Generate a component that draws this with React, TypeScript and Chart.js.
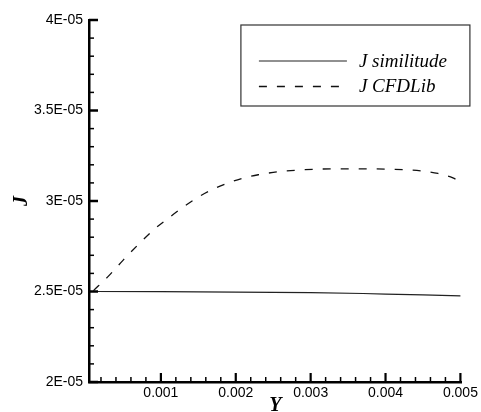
import React, { useEffect, useRef } from 'react';
import { Chart, registerables } from 'chart.js';
Chart.register(...registerables);

// ---- data ----
const seriesNames = ['J similitude', 'J CFDLib'];

const simX = [0.0001, 0.001, 0.002, 0.003, 0.0037, 0.004, 0.0045, 0.005];
const simY = [2.5e-5, 2.499e-5, 2.497e-5, 2.494e-5, 2.489e-5, 2.486e-5, 2.481e-5, 2.476e-5];

const cfdX = [
  0.0001, 0.0003, 0.0005, 0.0007, 0.0009, 0.0011, 0.0013, 0.0015, 0.0017,
  0.0019, 0.0021, 0.0023, 0.0025, 0.0028, 0.0031, 0.0034, 0.0037, 0.004,
  0.0043, 0.0045, 0.0047, 0.0049, 0.005,
];
const cfdY = [
  2.505e-5, 2.585e-5, 2.675e-5, 2.76e-5, 2.84e-5, 2.905e-5, 2.967e-5, 3.022e-5, 3.066e-5,
  3.1e-5, 3.126e-5, 3.145e-5, 3.158e-5, 3.17e-5, 3.176e-5, 3.178e-5, 3.178e-5, 3.176e-5,
  3.172e-5, 3.165e-5, 3.152e-5, 3.128e-5, 3.106e-5,
];

const xTickValues = [0.001, 0.002, 0.003, 0.004, 0.005];
const xTickLabels = ['0.001', '0.002', '0.003', '0.004', '0.005'];
const yTickValues = [2e-5, 2.5e-5, 3e-5, 3.5e-5, 4e-5];
const yTickLabels = ['2E-05', '2.5E-05', '3E-05', '3.5E-05', '4E-05'];

const X_MIN = 0.00004;
const X_MAX = 0.00502;
const Y_MIN = 2e-5;
const Y_MAX = 4e-5;

const innerTicks = {
  id: 'innerTicks',
  afterDatasetsDraw(chart: any) {
    const { ctx, chartArea, scales } = chart;
    const x = scales.x;
    const y = scales.y;
    ctx.save();
    ctx.strokeStyle = '#000';
    const yStep = (yTickValues[1] - yTickValues[0]) / 5;
    for (let i = 0; i <= 20; i++) {
      const v = Y_MIN + i * yStep;
      const py = y.getPixelForValue(v);
      const major = i % 5 === 0;
      ctx.lineWidth = major ? 2.5 : 1.5;
      ctx.beginPath();
      ctx.moveTo(chartArea.left, py);
      ctx.lineTo(chartArea.left + (major ? 9 : 5), py);
      ctx.stroke();
    }
    const xStep = (xTickValues[1] - xTickValues[0]) / 5;
    for (let i = 1; i <= 25; i++) {
      const v = i * xStep;
      const px = x.getPixelForValue(v);
      const major = i % 5 === 0;
      ctx.lineWidth = major ? 2.2 : 1.5;
      ctx.beginPath();
      ctx.moveTo(px, chartArea.bottom);
      ctx.lineTo(px, chartArea.bottom - (major ? 9 : 5));
      ctx.stroke();
    }
    ctx.restore();
  },
};

const boxLegend = {
  id: 'boxLegend',
  afterDraw(chart: any) {
    const { ctx, chartArea } = chart;
    const left = chartArea.right - 221;
    const top = chartArea.top + 5;
    const w = 229;
    const h = 81;
    ctx.save();
    ctx.fillStyle = '#fff';
    ctx.fillRect(left, top, w, h);
    ctx.strokeStyle = '#333';
    ctx.lineWidth = 1.2;
    ctx.strokeRect(left, top, w, h);
    const rows = [
      { y: top + 36, ty: top + 42 },
      { y: top + 61.5, ty: top + 67 },
    ];
    chart.data.datasets.forEach((ds: any, i: number) => {
      const r = rows[i];
      ctx.strokeStyle = ds.borderColor;
      ctx.lineWidth = ds.borderWidth;
      ctx.setLineDash(ds.borderDash || []);
      ctx.beginPath();
      ctx.moveTo(left + 18, r.y);
      ctx.lineTo(left + 106, r.y);
      ctx.stroke();
      ctx.setLineDash([]);
      ctx.fillStyle = '#000';
      ctx.font = 'italic 19px "Liberation Serif"';
      ctx.textBaseline = 'alphabetic';
      ctx.textAlign = 'left';
      ctx.fillText(ds.label, left + 118, r.ty);
    });
    ctx.restore();
  },
};

export default function App() {
  const ref = useRef<HTMLCanvasElement | null>(null);
  useEffect(() => {
    document.body.style.margin = '0';
    const canvas = ref.current;
    if (!canvas) return;
    const chart = new Chart(canvas, {
      type: 'scatter',
      data: {
        datasets: [
          {
            label: seriesNames[0],
            data: simX.map((v, i) => ({ x: v, y: simY[i] })),
            showLine: true,
            borderColor: '#222',
            borderWidth: 1.2,
            pointRadius: 0,
            tension: 0,
          },
          {
            label: seriesNames[1],
            data: cfdX.map((v, i) => ({ x: v, y: cfdY[i] })),
            showLine: true,
            borderColor: '#111',
            borderWidth: 1.3,
            borderDash: [8, 10],
            pointRadius: 0,
            cubicInterpolationMode: 'monotone',
          },
        ],
      },
      options: {
        responsive: false,
        animation: false,
        devicePixelRatio: 1,
        layout: { padding: { left: 0, top: 20, right: 18, bottom: 0 } },
        plugins: { legend: { display: false }, tooltip: { enabled: false } },
        scales: {
          x: {
            type: 'linear',
            min: X_MIN,
            max: X_MAX,
            afterBuildTicks: (s: any) => {
              s.ticks = xTickValues.map((v) => ({ value: v }));
            },
            afterFit: (s: any) => {
              s.height = 38;
            },
            grid: { drawOnChartArea: false, drawTicks: false },
            border: { display: true, color: '#000', width: 2.5 },
            ticks: {
              padding: 3,
              color: '#000',
              font: { family: '"Liberation Sans"', size: 14 },
              maxRotation: 0,
              callback: (_v: any, i: number) => xTickLabels[i],
            },
            title: {
              display: true,
              text: 'Y',
              color: '#000',
              font: { family: '"Liberation Serif"', size: 20, style: 'italic', weight: 'bold' },
              padding: { top: 0, bottom: 2 },
            },
          },
          y: {
            type: 'linear',
            min: Y_MIN,
            max: Y_MAX,
            afterBuildTicks: (s: any) => {
              s.ticks = yTickValues.map((v) => ({ value: v }));
            },
            afterFit: (s: any) => {
              s.width = 89;
            },
            grid: { drawOnChartArea: false, drawTicks: false },
            border: { display: true, color: '#000', width: 2.5 },
            ticks: {
              padding: 6,
              color: '#000',
              font: { family: '"Liberation Sans"', size: 14 },
              callback: (_v: any, i: number) => yTickLabels[i],
            },
            title: {
              display: true,
              text: 'J',
              color: '#000',
              font: { family: '"Liberation Serif"', size: 20, style: 'italic', weight: 'bold' },
              padding: { top: 10, bottom: 0 },
            },
          },
        },
      },
      plugins: [innerTicks, boxLegend],
    } as any);
    return () => chart.destroy();
  }, []);
  return (
    <div style={{ width: 481, height: 412, overflow: 'hidden', position: 'relative' }}>
      <canvas ref={ref} width={481} height={420} style={{ display: 'block' }} />
    </div>
  );
}
